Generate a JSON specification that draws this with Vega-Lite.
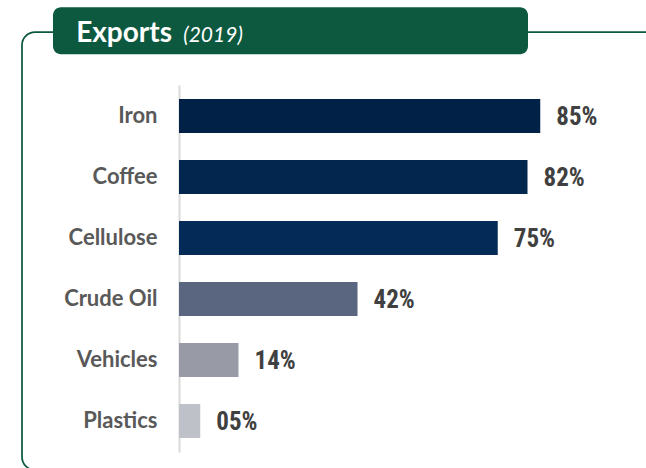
{
  "$schema": "https://vega.github.io/schema/vega-lite/v6.json",
  "width": 425,
  "height": 367,
  "autosize": {"type": "none"},
  "padding": {"left": 179, "top": 85, "right": 42, "bottom": 16},
  "background": "white",
  "config": {"view": {"stroke": null}},
  "datasets": {
    "exports": [
      {"item": "Iron", "value": 85, "label": "85%"},
      {"item": "Coffee", "value": 82, "label": "82%"},
      {"item": "Cellulose", "value": 75, "label": "75%"},
      {"item": "Crude Oil", "value": 42, "label": "42%"},
      {"item": "Vehicles", "value": 14, "label": "14%"},
      {"item": "Plastics", "value": 5, "label": "05%"}
    ],
    "one": [{"k": 1}]
  },
  "layer": [
    {
      "data": {"name": "one"},
      "mark": {"type": "rect", "fill": "transparent", "stroke": "#0d5940", "strokeWidth": 1.75, "cornerRadius": 13},
      "encoding": {
        "x": {"datum": -36.94, "type": "quantitative", "scale": {"domain": [0, 100], "nice": false, "zero": false}, "axis": null},
        "x2": {"datum": 125},
        "y": {"datum": -53, "type": "quantitative", "scale": {"domain": [0, 367], "reverse": true, "nice": false, "zero": false}, "axis": null},
        "y2": {"datum": 385}
      }
    },
    {
      "data": {"name": "one"},
      "mark": {"type": "rect", "fill": "#0d5940", "cornerRadius": 8},
      "encoding": {
        "x": {"datum": -29.65, "type": "quantitative", "scale": {"domain": [0, 100], "nice": false, "zero": false}, "axis": null},
        "x2": {"datum": 82.12},
        "y": {"datum": -77.7, "type": "quantitative", "scale": {"domain": [0, 367], "reverse": true, "nice": false, "zero": false}, "axis": null},
        "y2": {"datum": -30.7}
      }
    },
    {
      "data": {"name": "one"},
      "mark": {"type": "text", "text": "Exports", "font": "Lato", "fontWeight": "bold", "fontSize": 28, "fill": "white", "align": "left", "baseline": "alphabetic"},
      "encoding": {
        "x": {"datum": -24.2, "type": "quantitative", "scale": {"domain": [0, 100], "nice": false, "zero": false}, "axis": null},
        "y": {"datum": -43.3, "type": "quantitative", "scale": {"domain": [0, 367], "reverse": true, "nice": false, "zero": false}, "axis": null}
      }
    },
    {
      "data": {"name": "one"},
      "mark": {"type": "text", "text": "(2019)", "font": "Lato", "fontStyle": "italic", "fontSize": 21, "fill": "white", "align": "left", "baseline": "alphabetic"},
      "encoding": {
        "x": {"datum": 1.0, "type": "quantitative", "scale": {"domain": [0, 100], "nice": false, "zero": false}, "axis": null},
        "y": {"datum": -43.3, "type": "quantitative", "scale": {"domain": [0, 367], "reverse": true, "nice": false, "zero": false}, "axis": null}
      }
    },
    {
      "data": {"name": "exports"},
      "mark": {"type": "bar"},
      "encoding": {
        "y": {
          "field": "item",
          "type": "nominal",
          "sort": null,
          "scale": {"paddingInner": 0.443, "paddingOuter": 0.23},
          "axis": {
            "title": null,
            "ticks": false,
            "grid": false,
            "domainColor": "#d9d9d9",
            "domainWidth": 2,
            "labelFont": "Lato",
            "labelFontWeight": "bold",
            "labelFontSize": 22,
            "labelColor": "#595959",
            "labelPadding": 22
          }
        },
        "x": {"field": "value", "type": "quantitative", "scale": {"domain": [0, 100], "nice": false, "zero": false}, "axis": null},
        "color": {
          "field": "item",
          "type": "nominal",
          "scale": {
            "domain": ["Iron", "Coffee", "Cellulose", "Crude Oil", "Vehicles", "Plastics"],
            "range": ["#012147", "#03264f", "#042a58", "#5a6580", "#989ba6", "#bfc1c9"]
          },
          "legend": null
        }
      }
    },
    {
      "data": {"name": "exports"},
      "mark": {"type": "text", "align": "left", "baseline": "middle", "dx": 16, "dy": 1, "font": "Liberation Sans Narrow, Roboto Condensed, Roboto", "fontWeight": "bold", "fontSize": 25, "fill": "#404040"},
      "encoding": {
        "y": {"field": "item", "type": "nominal", "sort": null, "scale": {"paddingInner": 0.443, "paddingOuter": 0.23}, "axis": null},
        "x": {"field": "value", "type": "quantitative", "scale": {"domain": [0, 100], "nice": false, "zero": false}, "axis": null},
        "text": {"field": "label"}
      }
    }
  ],
  "resolve": {"scale": {"y": "independent"}}
}
